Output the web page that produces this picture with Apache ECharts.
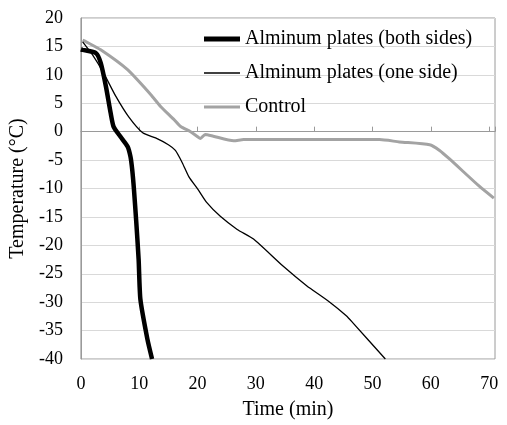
<!DOCTYPE html>
<html>
<head>
<meta charset="utf-8">
<script src="https://cdn.jsdelivr.net/npm/echarts@6/dist/echarts.min.js"></script>
<style>
  html, body { margin: 0; padding: 0; background: #fff; }
  #chart-container { width: 507px; height: 425px; }
</style>
</head>
<body>
<div id="chart-container"></div>
<script>
// time (min), temperature (°C)
const bothSides = [
  [0, 14.5], [0.3, 14.4], [2.6, 13.8], [3.4, 12.1], [4.3, 7.9], [5.1, 3.3],
  [5.6, 0.9], [6.8, -0.9], [8.0, -2.6], [8.5, -4.4], [8.8, -6.7], [9.1, -10.2],
  [9.5, -16], [9.9, -22.5], [10.2, -29.5], [11.4, -36.5], [12.2, -40]
];
const oneSide = [
  [0.3, 15.8], [2, 13.5], [3.9, 10.3], [6, 6.2], [8.2, 2.6], [10.6, -0.2],
  [12.8, -1.1], [15, -2.3], [16.2, -3.3], [17.4, -5.5], [18.5, -7.9],
  [20.1, -10.2], [21.6, -12.5], [23.9, -14.9], [26.8, -17.2], [29.6, -18.9],
  [34.7, -23.7], [38.7, -27.1], [42.4, -29.8], [45.5, -32.4], [46.6, -33.6],
  [52.2, -40]
];
const control = [
  [0.3, 16.1], [0.9, 15.8], [3.4, 14.4], [8, 10.9], [12, 6.5], [13.7, 4.4],
  [15.9, 2.2], [17.1, 0.9], [18.8, 0], [19.9, -0.8], [20.5, -1.2], [21.3, -0.5],
  [22.7, -0.8], [26.2, -1.6], [27.9, -1.4], [40, -1.4], [51.2, -1.4],
  [54.6, -1.8], [59.8, -2.3], [61.5, -3.3], [63.2, -4.8], [68.3, -9.6],
  [70.8, -11.7]
];
const seriesNames = [
  "Alminum plates (both sides)",
  "Alminum plates (one side)",
  "Control"
];

(() => {
  var dom = document.getElementById("chart-container");
  var chart = echarts.init(dom, null, { renderer: "canvas" });
  const font = "'Liberation Serif', 'Times New Roman', serif";
  const option = {
    animation: false,
    textStyle: { fontFamily: font },
    grid: {
      left: 80,
      right: 12,
      top: 18,
      bottom: 65,
      show: true,
      borderColor: "#9a9a9a",
      borderWidth: 1,
    },
    legend: {
      orient: "vertical",
      left: 204,
      top: 29,
      padding: 0,
      itemWidth: 36,
      itemHeight: 14,
      itemGap: 14,
      textStyle: { fontFamily: font, fontSize: 20, color: "#000" },
      data: [
        { name: seriesNames[0], icon: "path://M0,0H36V5H0Z" },
        { name: seriesNames[1], icon: "path://M0,0H36V1.4H0Z" },
        { name: seriesNames[2], icon: "path://M0,0H36V3.2H0Z" },
      ],
    },
    xAxis: {
      type: "value",
      min: 0,
      max: 71,
      interval: 10,
      name: "Time (min)",
      nameLocation: "middle",
      nameGap: 41,
      nameTextStyle: { fontFamily: font, fontSize: 20, color: "#000" },
      axisLine: { lineStyle: { color: "#9a9a9a" } },
      axisTick: { show: true, inside: true, length: 5, lineStyle: { color: "#9a9a9a" } },
      axisLabel: {
        fontFamily: font,
        fontSize: 18,
        color: "#000",
        margin: 16,
        formatter: (v) => (v % 10 === 0 ? String(v) : ""),
      },
      splitLine: { show: false },
    },
    yAxis: {
      type: "value",
      min: -40,
      max: 20,
      interval: 5,
      name: "Temperature (°C)",
      nameLocation: "middle",
      nameGap: 48,
      nameTextStyle: { fontFamily: font, fontSize: 20, color: "#000" },
      axisLine: { show: true, lineStyle: { color: "#9a9a9a" } },
      axisTick: { show: false },
      axisLabel: { fontFamily: font, fontSize: 18, color: "#000", margin: 18 },
      splitLine: { lineStyle: { color: "#d9d9d9", width: 1 } },
    },
    series: [
      {
        name: seriesNames[0],
        type: "line",
        data: bothSides,
        showSymbol: false,
        symbol: "none",
        smooth: 0.2,
        lineStyle: { color: "#000", width: 4.5 },
        itemStyle: { color: "#000" },
        z: 4,
      },
      {
        name: seriesNames[1],
        type: "line",
        data: oneSide,
        showSymbol: false,
        symbol: "none",
        smooth: 0.2,
        lineStyle: { color: "#000", width: 1.3 },
        itemStyle: { color: "#000" },
        z: 3,
      },
      {
        name: seriesNames[2],
        type: "line",
        data: control,
        showSymbol: false,
        symbol: "none",
        smooth: 0.2,
        lineStyle: { color: "#a3a3a3", width: 3 },
        itemStyle: { color: "#a3a3a3" },
        z: 2,
      },
    ],
  };
  chart.setOption(option);
  window.addEventListener("resize", chart.resize);
})();
</script>
</body>
</html>
